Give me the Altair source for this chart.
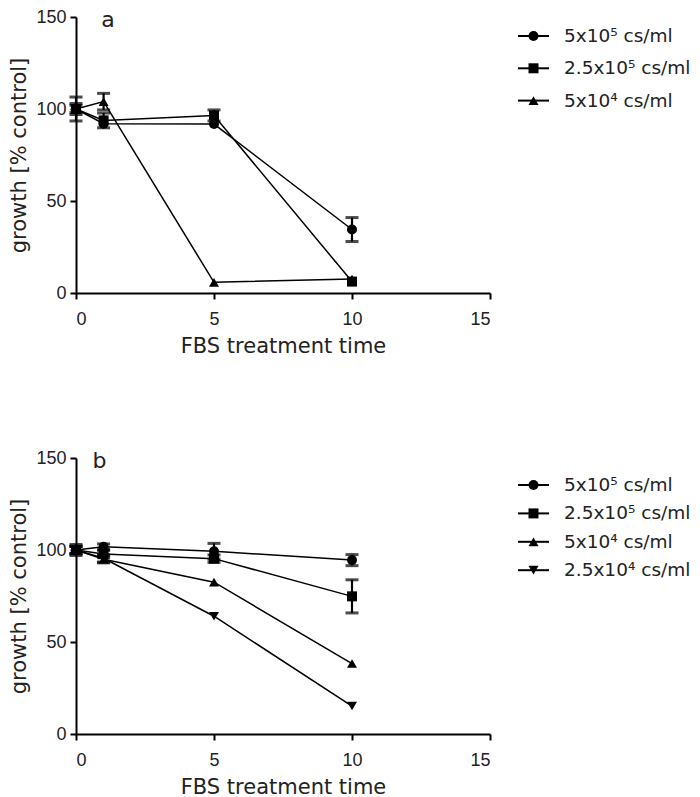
import altair as alt
import pandas as pd

# ---- data ----
times = [0, 1, 5, 10]

a_labels = ["5x10⁵ cs/ml", "2.5x10⁵ cs/ml", "5x10⁴ cs/ml"]
a_values = [
    [100, 92.0, 91.8, 34.5],
    [100, 93.8, 96.5, 6.2],
    [100, 104.0, 5.8, 7.6],
]
a_errors = [
    [3.0, 0.0, 0.0, 6.5],
    [6.5, 4.0, 3.0, 0.0],
    [2.0, 4.5, 0.0, 0.0],
]

b_labels = ["5x10⁵ cs/ml", "2.5x10⁵ cs/ml", "5x10⁴ cs/ml", "2.5x10⁴ cs/ml"]
b_values = [
    [100, 101.8, 99.3, 94.5],
    [100, 97.8, 95.3, 74.8],
    [100, 95.0, 82.5, 38.3],
    [100, 95.5, 64.0, 15.2],
]
b_errors = [
    [2.0, 1.5, 4.3, 3.0],
    [3.0, 2.0, 2.0, 9.0],
    [2.0, 2.0, 0.0, 0.0],
    [2.0, 2.0, 0.0, 0.0],
]

all_labels = b_labels
shapes = ["circle", "square", "triangle-up", "triangle-down"]
sizes = [100, 100, 140, 140]

W, H = 414, 276
TITLE_FONT = "DejaVu Sans"
LABEL_FONT = "Liberation Sans"
TXT = "#222222"


def panel(letter, labels, values, errors, leg_first, leg_step, letter_x, letter_y):
    rows = []
    for i, lab in enumerate(labels):
        for t, v, e in zip(times, values[i], errors[i]):
            rows.append({"series": lab, "order": i, "time": t, "value": v,
                         "lo": v - e, "hi": v + e})
    df = pd.DataFrame(rows)
    leg = pd.DataFrame({"series": labels, "idx": list(range(len(labels)))})

    shape_scale = alt.Scale(domain=all_labels, range=shapes)
    size_scale = alt.Scale(domain=all_labels, range=sizes)
    xenc = alt.X("time:Q", scale=alt.Scale(domain=[0, 15], nice=False),
                 axis=alt.Axis(values=[0, 5, 10, 15], title="FBS treatment time"))
    yscale = alt.Scale(domain=[0, 150], nice=False)
    yaxis = alt.Axis(values=[0, 50, 100, 150], title="growth [% control]")

    base = alt.Chart(df)
    errbase = base.transform_filter("datum.hi > datum.lo")
    lines = base.mark_line(color="black", strokeWidth=1.5).encode(
        x=xenc, y=alt.Y("value:Q", scale=yscale, axis=yaxis),
        detail="series:N", order="time:Q")
    rules = errbase.mark_rule(color="black", strokeWidth=2.2).encode(
        x="time:Q", y=alt.Y("lo:Q", scale=yscale), y2="hi:Q")
    tick_lo = errbase.mark_tick(color="black", orient="horizontal", size=13,
                                thickness=3).encode(x="time:Q", y=alt.Y("lo:Q", scale=yscale))
    tick_hi = errbase.mark_tick(color="black", orient="horizontal", size=13,
                                thickness=3).encode(x="time:Q", y=alt.Y("hi:Q", scale=yscale))
    pts = base.mark_point(filled=True, color="black", opacity=1).encode(
        x="time:Q", y=alt.Y("value:Q", scale=yscale),
        shape=alt.Shape("series:N", scale=shape_scale, legend=None),
        size=alt.Size("series:N", scale=size_scale, legend=None))
    letter_txt = alt.Chart(pd.DataFrame({"t": [letter]})).mark_text(
        font=TITLE_FONT, fontSize=22, color=TXT, align="center", baseline="alphabetic"
    ).encode(x=alt.value(letter_x), y=alt.value(letter_y), text="t:N")

    data_layer = alt.layer(lines, rules, tick_lo, tick_hi, pts, letter_txt)

    n_lo = -leg_first / leg_step
    n_hi = (H - leg_first) / leg_step
    lyenc = alt.Y("idx:Q", scale=alt.Scale(domain=[n_lo, n_hi], reverse=True,
                                           nice=False, zero=False), axis=None)
    lbase = alt.Chart(leg)
    lrule = lbase.mark_rule(color="black", strokeWidth=2).encode(
        x=alt.value(W + 28), x2=alt.value(W + 59), y=lyenc)
    lpts = lbase.mark_point(filled=True, color="black", opacity=1).encode(
        x=alt.value(W + 43.5), y=lyenc,
        shape=alt.Shape("series:N", scale=shape_scale, legend=None),
        size=alt.Size("series:N", scale=size_scale, legend=None))
    ltxt = lbase.mark_text(font=TITLE_FONT, fontSize=18.5, color=TXT, align="left",
                           baseline="middle").encode(
        x=alt.value(W + 74), y=lyenc, text="series:N")
    legend_layer = alt.layer(lrule, lpts, ltxt)

    return alt.layer(data_layer, legend_layer).resolve_scale(y="independent").properties(
        width=W, height=H)


pa = panel("a", a_labels, a_values, a_errors, 19, 32.3, 32, 10)
pb = panel("b", b_labels, b_values, b_errors, 27, 28.4, 23.5, 10)

chart = alt.vconcat(pa, pb, spacing=93).properties(
    padding={"left": 0, "top": 0, "right": 0, "bottom": 0}
).configure_view(stroke=None).configure_axis(
    grid=False, domainColor="black", domainWidth=2, tickColor="black", tickWidth=2,
    tickSize=6, labelFont=LABEL_FONT, labelFontSize=18, labelColor=TXT,
    titleFont=TITLE_FONT, titleFontSize=21, titleFontWeight="normal", titleColor=TXT,
).configure_axisX(labelPadding=11, titlePadding=7).configure_axisY(
    labelPadding=4, titlePadding=6)

chart.save("out.html", embed_options={"renderer": "svg", "actions": False})
